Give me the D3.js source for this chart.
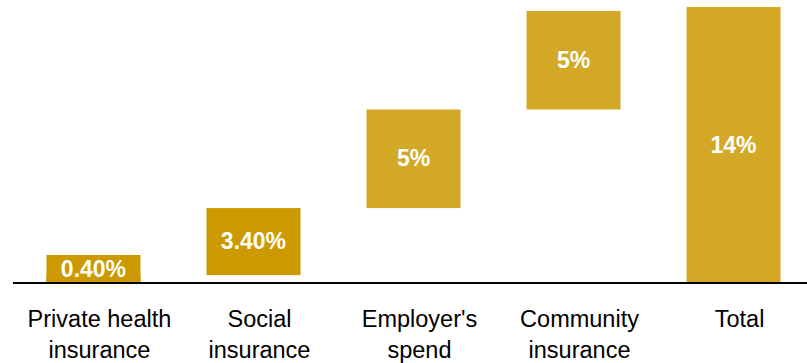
<!DOCTYPE html>
<html>
<head>
<meta charset="utf-8">
<script src="https://cdn.jsdelivr.net/npm/d3@7"></script>
<style>
  html, body { margin: 0; padding: 0; background: #fff; }
  svg { display: block; font-family: "Liberation Sans", Arial, sans-serif; }
</style>
</head>
<body>
<svg id="chart" width="807" height="363"></svg>
<script>
// Contributions to total health financing (waterfall)
const categories = ["Private health insurance", "Social insurance", "Employer's spend", "Community insurance", "Total"];
const categoryLines = [["Private health", "insurance"], ["Social", "insurance"], ["Employer's", "spend"], ["Community", "insurance"], ["Total"]];
const values = [0.4, 3.4, 5, 5, 14];
const valueLabels = ["0.40%", "3.40%", "5%", "5%", "14%"];
const isTotal = [false, false, false, false, true];
const barColors = ["#CC9900", "#CC9900", "#D4A827", "#D4A827", "#D4A827"];

const svg = d3.select("#chart");
const baseY = 283;

// Cumulative start/end for each step; the total bar starts at zero
let running = 0;
const bars = categories.map((c, i) => {
  let start, end;
  if (isTotal[i]) { start = 0; end = values[i]; }
  else { start = running; end = running + values[i]; running = end; }
  return { cat: c, i, start, end, label: valueLabels[i], color: barColors[i] };
});

const x = d3.scaleBand().domain(categories).range([13.5, 813.5]).paddingInner(0.4125).paddingOuter(0.206);
const y = d3.scaleLinear().domain([0, 14]).range([baseY, 7]);

// Bars
svg.append("g").selectAll("rect").data(bars).join("rect")
  .attr("x", d => x(d.cat))
  .attr("width", x.bandwidth())
  .attr("y", d => y(d.end))
  .attr("height", d => y(d.start) - y(d.end))
  .attr("fill", d => d.color);

// Value labels; thin bars get a tag behind the text so it stays readable
const minTag = 28;
const lab = svg.append("g").selectAll("g").data(bars).join("g");
lab.filter(d => y(d.start) - y(d.end) < minTag).append("rect")
  .attr("x", d => x(d.cat))
  .attr("width", x.bandwidth())
  .attr("y", d => y(d.start) - minTag)
  .attr("height", minTag)
  .attr("fill", d => d.color);
lab.append("text")
  .attr("x", d => x(d.cat) + x.bandwidth() / 2)
  .attr("y", d => {
    const h = y(d.start) - y(d.end);
    return h < minTag ? y(d.start) - minTag / 2 : (y(d.start) + y(d.end)) / 2;
  })
  .attr("dy", "0.33em")
  .attr("text-anchor", "middle")
  .attr("fill", "#fff")
  .attr("font-weight", "bold")
  .attr("font-size", 23)
  .text(d => d.label);

// Baseline
svg.append("line")
  .attr("x1", 13).attr("x2", 807)
  .attr("y1", baseY).attr("y2", baseY)
  .attr("stroke", "#000").attr("stroke-width", 2);

// Category labels, nudged slightly right of the bar centres
const axis = svg.append("g").attr("transform", `translate(6,${baseY})`)
  .call(d3.axisBottom(x).tickSize(0).tickFormat(""));
axis.select(".domain").remove();
axis.selectAll(".tick").each(function (d, i) {
  const t = d3.select(this).append("text")
    .attr("fill", "#000")
    .attr("text-anchor", "middle")
    .attr("font-size", 23.5)
    .attr("y", 44);
  categoryLines[i].forEach((ln, k) => {
    t.append("tspan").attr("x", 0).attr("dy", k === 0 ? 0 : 31).text(ln);
  });
});
</script>
</body>
</html>
